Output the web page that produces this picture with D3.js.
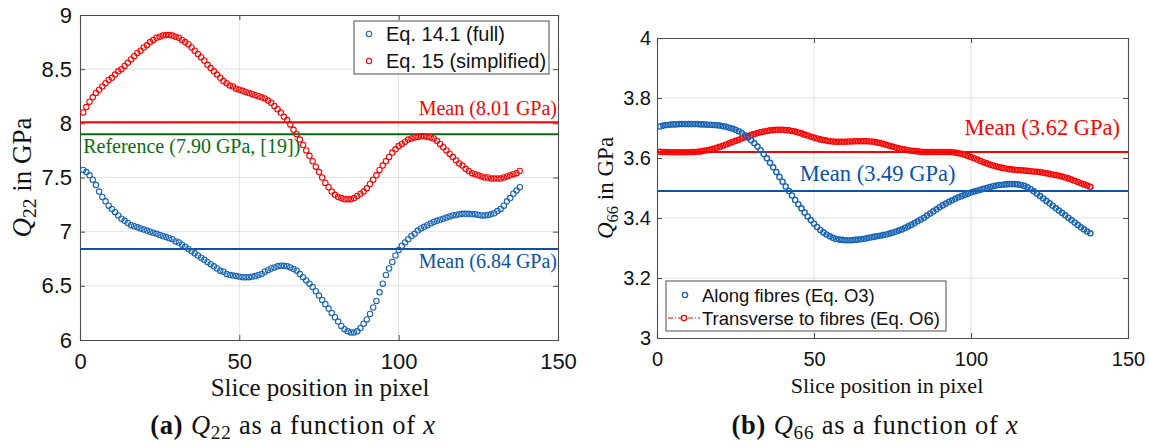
<!DOCTYPE html>
<html>
<head>
<meta charset="utf-8">
<script src="https://cdn.jsdelivr.net/npm/d3@7"></script>
<style>
  html, body { margin: 0; padding: 0; background: #fff; }
  svg { display: block; }
</style>
</head>
<body>
<svg id="chart" width="1149" height="446"></svg>
<script>
// Slice index (pixel position) shared by all four series
const slices = d3.range(1, 139);

// Panel (a): Q22 in GPa
const q22Full = [
  7.57, 7.55, 7.52, 7.48, 7.43, 7.37, 7.32, 7.28, 7.24, 7.21,
  7.18, 7.15, 7.12, 7.10, 7.08, 7.06, 7.05, 7.04, 7.03, 7.02,
  7.01, 7.00, 6.99, 6.98, 6.97, 6.96, 6.95, 6.94, 6.93, 6.91,
  6.90, 6.88, 6.86, 6.84, 6.82, 6.80, 6.78, 6.76, 6.74, 6.72,
  6.70, 6.68, 6.66, 6.64, 6.63, 6.61, 6.60, 6.595, 6.59, 6.585,
  6.58, 6.58, 6.58, 6.585, 6.59, 6.60, 6.61, 6.63, 6.645, 6.66,
  6.67, 6.68, 6.685, 6.685, 6.68, 6.67, 6.655, 6.64, 6.61, 6.58,
  6.55, 6.52, 6.49, 6.45, 6.41, 6.37, 6.33, 6.29, 6.25, 6.21,
  6.17, 6.13, 6.10, 6.08, 6.07, 6.07, 6.08, 6.11, 6.15, 6.19,
  6.24, 6.30, 6.36, 6.44, 6.52, 6.60, 6.66, 6.72, 6.78, 6.83,
  6.87, 6.90, 6.93, 6.96, 6.98, 7.01, 7.03, 7.045, 7.06, 7.075,
  7.09, 7.10, 7.11, 7.12, 7.13, 7.14, 7.15, 7.155, 7.16, 7.165,
  7.165, 7.165, 7.16, 7.16, 7.155, 7.15, 7.15, 7.155, 7.16, 7.17,
  7.19, 7.21, 7.24, 7.28, 7.31, 7.35, 7.38, 7.41
];
const q22Simplified = [
  8.10, 8.15, 8.20, 8.24, 8.28, 8.31, 8.34, 8.37, 8.40, 8.42,
  8.45, 8.48, 8.50, 8.53, 8.56, 8.59, 8.62, 8.65, 8.67, 8.70,
  8.72, 8.75, 8.77, 8.79, 8.80, 8.81, 8.815, 8.815, 8.81, 8.80,
  8.79, 8.77, 8.75, 8.73, 8.70, 8.67, 8.64, 8.61, 8.58, 8.54,
  8.51, 8.48, 8.45, 8.42, 8.39, 8.37, 8.35, 8.34, 8.32, 8.31,
  8.30, 8.29, 8.28, 8.27, 8.26, 8.25, 8.24, 8.23, 8.21, 8.19,
  8.16, 8.13, 8.10, 8.06, 8.03, 7.99, 7.94, 7.90, 7.85, 7.80,
  7.75, 7.70, 7.65, 7.60, 7.55, 7.50, 7.45, 7.41, 7.37, 7.34,
  7.32, 7.31, 7.30, 7.30, 7.30, 7.31, 7.33, 7.35, 7.37, 7.40,
  7.44, 7.48, 7.52, 7.57, 7.61, 7.65, 7.69, 7.73, 7.76, 7.79,
  7.81, 7.83, 7.85, 7.86, 7.87, 7.875, 7.88, 7.88, 7.875, 7.87,
  7.86, 7.84, 7.81, 7.78, 7.75, 7.72, 7.69, 7.66, 7.63, 7.61,
  7.58, 7.56, 7.54, 7.53, 7.52, 7.51, 7.50, 7.50, 7.49, 7.49,
  7.49, 7.49, 7.50, 7.51, 7.52, 7.53, 7.54, 7.56
];
const q22FullMean = 6.84;
const q22SimplifiedMean = 8.01;
const q22Reference = 7.90;

// Panel (b): Q66 in GPa
const q66Along = [
  3.705, 3.708, 3.710, 3.711, 3.712, 3.712, 3.713, 3.713, 3.713, 3.713,
  3.713, 3.713, 3.713, 3.712, 3.712, 3.711, 3.711, 3.710, 3.709, 3.708,
  3.706, 3.704, 3.701, 3.698, 3.694, 3.689, 3.683, 3.676, 3.668, 3.659,
  3.649, 3.638, 3.626, 3.613, 3.599, 3.584, 3.569, 3.553, 3.537, 3.521,
  3.505, 3.490, 3.475, 3.460, 3.446, 3.432, 3.418, 3.405, 3.393, 3.381,
  3.370, 3.360, 3.352, 3.345, 3.339, 3.334, 3.330, 3.328, 3.327, 3.326,
  3.326, 3.326, 3.327, 3.328, 3.329, 3.331, 3.333, 3.335, 3.337, 3.339,
  3.341, 3.343, 3.345, 3.348, 3.351, 3.354, 3.358, 3.362, 3.367, 3.372,
  3.377, 3.383, 3.389, 3.395, 3.401, 3.408, 3.415, 3.422, 3.429, 3.436,
  3.442, 3.448, 3.454, 3.459, 3.464, 3.469, 3.473, 3.477, 3.481, 3.485,
  3.488, 3.491, 3.494, 3.497, 3.500, 3.503, 3.506, 3.508, 3.510, 3.511,
  3.512, 3.513, 3.513, 3.513, 3.512, 3.510, 3.507, 3.502, 3.496, 3.489,
  3.481, 3.473, 3.465, 3.457, 3.449, 3.441, 3.433, 3.425, 3.417, 3.409,
  3.401, 3.393, 3.385, 3.377, 3.369, 3.362, 3.355, 3.349
];
const q66Transverse = [
  3.621, 3.620, 3.620, 3.619, 3.619, 3.619, 3.619, 3.619, 3.619, 3.619,
  3.620, 3.620, 3.621, 3.622, 3.624, 3.626, 3.628, 3.631, 3.634, 3.637,
  3.641, 3.645, 3.649, 3.653, 3.657, 3.661, 3.665, 3.669, 3.673, 3.677,
  3.680, 3.683, 3.686, 3.688, 3.690, 3.692, 3.693, 3.694, 3.694, 3.694,
  3.693, 3.692, 3.690, 3.688, 3.685, 3.682, 3.678, 3.675, 3.671, 3.668,
  3.665, 3.662, 3.660, 3.658, 3.656, 3.655, 3.654, 3.654, 3.654, 3.654,
  3.655, 3.655, 3.656, 3.656, 3.656, 3.656, 3.656, 3.655, 3.654, 3.652,
  3.650, 3.647, 3.644, 3.641, 3.638, 3.635, 3.632, 3.630, 3.628, 3.626,
  3.624, 3.623, 3.622, 3.621, 3.620, 3.620, 3.620, 3.620, 3.620, 3.620,
  3.620, 3.620, 3.620, 3.619, 3.618, 3.616, 3.614, 3.611, 3.607, 3.603,
  3.599, 3.595, 3.590, 3.586, 3.582, 3.578, 3.575, 3.572, 3.569, 3.567,
  3.565, 3.563, 3.562, 3.561, 3.560, 3.559, 3.558, 3.557, 3.556, 3.555,
  3.554, 3.553, 3.551, 3.549, 3.547, 3.545, 3.543, 3.541, 3.538, 3.535,
  3.532, 3.528, 3.524, 3.520, 3.516, 3.512, 3.508, 3.504
];
const q66AlongMean = 3.49;
const q66TransverseMean = 3.62;

// Tick values
const xTicks = [0, 50, 100, 150];
const q22Ticks = [6, 6.5, 7, 7.5, 8, 8.5, 9];
const q66Ticks = [3, 3.2, 3.4, 3.6, 3.8, 4];

const BLUE = "#1763b4";
const BLUE_LINE = "#0d52a3";
const RED = "#FF0000";
const GREEN = "#0b6b12";
const SANS = "'Liberation Sans', Arial, sans-serif";
const SERIF = "'Liberation Serif', 'Times New Roman', serif";

const svg = d3.select("#chart");

function drawPanel(p) {
  const g = svg.append("g");
  const x = d3.scaleLinear().domain([0, 150]).range([p.left, p.right]);
  const y = d3.scaleLinear().domain(p.yDomain).range([p.bottom, p.top]);

  // grid
  g.append("g").selectAll("line").data(xTicks.slice(1, -1)).join("line")
    .attr("x1", d => x(d)).attr("x2", d => x(d))
    .attr("y1", p.top).attr("y2", p.bottom)
    .attr("stroke", "#e2e2e2").attr("stroke-width", 1);
  g.append("g").selectAll("line").data(p.yTicks.slice(1, -1)).join("line")
    .attr("y1", d => y(d)).attr("y2", d => y(d))
    .attr("x1", p.left).attr("x2", p.right)
    .attr("stroke", "#e2e2e2").attr("stroke-width", 1);

  // axes with inward ticks on all four sides
  const tl = 5;
  const axB = g.append("g").attr("transform", `translate(0,${p.bottom})`)
    .call(d3.axisBottom(x).tickValues(xTicks).tickSize(-tl).tickPadding(p.xPad).tickFormat(d3.format("d")));
  const axT = g.append("g").attr("transform", `translate(0,${p.top})`)
    .call(d3.axisTop(x).tickValues(xTicks).tickSize(-tl).tickFormat(""));
  const axL = g.append("g").attr("transform", `translate(${p.left},0)`)
    .call(d3.axisLeft(y).tickValues(p.yTicks).tickSize(-tl).tickPadding(p.yPad).tickFormat(d => String(+d.toFixed(1))));
  const axR = g.append("g").attr("transform", `translate(${p.right},0)`)
    .call(d3.axisRight(y).tickValues(p.yTicks).tickSize(-tl).tickFormat(""));
  [axB, axT, axL, axR].forEach(a => {
    a.select(".domain").attr("stroke", "#4d4d4d").attr("stroke-width", 1.1);
    a.selectAll(".tick line").attr("stroke", "#4d4d4d");
    a.selectAll(".tick text").attr("font-family", SANS).attr("font-size", p.tickFont).attr("fill", "#111");
  });

  // reference / mean lines
  p.hlines.forEach(h => {
    g.append("line").attr("x1", p.left).attr("x2", p.right)
      .attr("y1", y(h.value)).attr("y2", y(h.value))
      .attr("stroke", h.color).attr("stroke-width", 2);
    g.append("text").attr("x", h.anchor === "end" ? p.right + h.dx : x(h.xPos))
      .attr("y", y(h.value) + h.dy)
      .attr("text-anchor", h.anchor)
      .attr("font-family", SERIF).attr("font-size", p.noteFont)
      .attr("fill", h.color).text(h.text);
  });

  // circle markers
  p.series.forEach(s => {
    g.append("g").selectAll("circle").data(s.values).join("circle")
      .attr("cx", (d, i) => x(slices[i]))
      .attr("cy", d => y(d))
      .attr("r", p.r)
      .attr("fill", "none")
      .attr("stroke", s.color)
      .attr("stroke-width", p.sw);
  });

  // axis labels
  g.append("text").attr("x", p.xLabelX).attr("y", p.xLabelY)
    .attr("text-anchor", "middle").attr("font-family", SERIF)
    .attr("font-size", p.labelFont).attr("fill", "#111")
    .text("Slice position in pixel");

  const yl = g.append("text")
    .attr("transform", `translate(${p.yLabelX},${(p.top + p.bottom) / 2}) rotate(-90)`)
    .attr("text-anchor", "middle").attr("font-family", SERIF)
    .attr("font-size", p.yLabelFont).attr("fill", "#111");
  yl.append("tspan").attr("font-style", "italic").text("Q");
  yl.append("tspan").attr("font-size", "72%").attr("dy", 5).text(p.sub);
  yl.append("tspan").attr("dy", -5).text(" in GPa");

  // caption
  const cap = g.append("text").attr("x", p.capX).attr("y", 434)
    .attr("text-anchor", "middle").attr("font-family", SERIF)
    .attr("font-size", 26.5).attr("letter-spacing", 0.8).attr("fill", "#111");
  cap.append("tspan").attr("font-weight", "bold").text(p.capTag);
  cap.append("tspan").text(" ");
  cap.append("tspan").attr("font-style", "italic").text("Q");
  cap.append("tspan").attr("font-size", "72%").attr("dy", 5).text(p.sub);
  cap.append("tspan").attr("dy", -5).text(" as a function of ");
  cap.append("tspan").attr("font-style", "italic").text("x");

  return { g, x, y };
}

// Panel (a)
const pa = drawPanel({
  left: 80, right: 558, top: 15, bottom: 340,
  yDomain: [6, 9], yTicks: q22Ticks,
  tickFont: 22, noteFont: 20, labelFont: 25, yLabelFont: 27,
  xPad: 13, yPad: 8,
  r: 2.7, sw: 1.1,
  xLabelX: 320, xLabelY: 396, yLabelX: 31, sub: "22", capTag: "(a)", capX: 293,
  hlines: [
    { value: q22SimplifiedMean, color: RED, text: "Mean (8.01 GPa)", anchor: "end", dx: -1, dy: -7 },
    { value: q22Reference, color: GREEN, text: "Reference (7.90 GPa, [19])", anchor: "start", xPos: 1, dy: 19 },
    { value: q22FullMean, color: BLUE_LINE, text: "Mean (6.84 GPa)", anchor: "end", dx: -1, dy: 19 }
  ],
  series: [
    { values: q22Simplified, color: RED },
    { values: q22Full, color: BLUE }
  ]
});

// Legend (a)
{
  const lg = pa.g.append("g");
  lg.append("rect").attr("x", 354).attr("y", 21).attr("width", 195).attr("height", 53)
    .attr("fill", "#fff").attr("stroke", "#4d4d4d").attr("stroke-width", 1);
  const items = [
    { label: "Eq. 14.1 (full)", color: BLUE, y: 34 },
    { label: "Eq. 15 (simplified)", color: RED, y: 61 }
  ];
  items.forEach(it => {
    lg.append("circle").attr("cx", 369).attr("cy", it.y).attr("r", 2.7)
      .attr("fill", "none").attr("stroke", it.color).attr("stroke-width", 1.1);
    lg.append("text").attr("x", 386).attr("y", it.y + 7)
      .attr("font-family", SANS).attr("font-size", 20).attr("fill", "#111").text(it.label);
  });
}

// Panel (b)
const pb = drawPanel({
  left: 657, right: 1128, top: 38, bottom: 338,
  yDomain: [3, 4], yTicks: q66Ticks,
  tickFont: 20, noteFont: 22.5, labelFont: 22, yLabelFont: 23,
  xPad: 14, yPad: 6,
  r: 2.6, sw: 1.4,
  xLabelX: 887, xLabelY: 393, yLabelX: 613, sub: "66", capTag: "(b)", capX: 875,
  hlines: [
    { value: q66TransverseMean, color: RED, text: "Mean (3.62 GPa)", anchor: "end", dx: -8, dy: -17 },
    { value: q66AlongMean, color: BLUE_LINE, text: "Mean (3.49 GPa)", anchor: "start", xPos: 45.5, dy: -10 }
  ],
  series: [
    { values: q66Transverse, color: RED },
    { values: q66Along, color: BLUE }
  ]
});

// Legend (b)
{
  const lg = pb.g.append("g");
  lg.append("rect").attr("x", 666).attr("y", 281).attr("width", 280).attr("height", 50)
    .attr("fill", "#fff").attr("stroke", "#4d4d4d").attr("stroke-width", 1);
  lg.append("circle").attr("cx", 685).attr("cy", 295).attr("r", 2.6)
    .attr("fill", "none").attr("stroke", BLUE).attr("stroke-width", 1.4);
  lg.append("text").attr("x", 702).attr("y", 302)
    .attr("font-family", SANS).attr("font-size", 18.5).attr("fill", "#111").text("Along fibres (Eq. O3)");
  lg.append("line").attr("x1", 668).attr("x2", 700).attr("y1", 318).attr("y2", 318)
    .attr("stroke", RED).attr("stroke-width", 1).attr("stroke-dasharray", "5,2,1,2");
  lg.append("circle").attr("cx", 684).attr("cy", 318).attr("r", 2.6)
    .attr("fill", "#fff").attr("stroke", RED).attr("stroke-width", 1.4);
  lg.append("text").attr("x", 702).attr("y", 325)
    .attr("font-family", SANS).attr("font-size", 18.5).attr("fill", "#111").text("Transverse to fibres (Eq. O6)");
}
</script>
</body>
</html>
